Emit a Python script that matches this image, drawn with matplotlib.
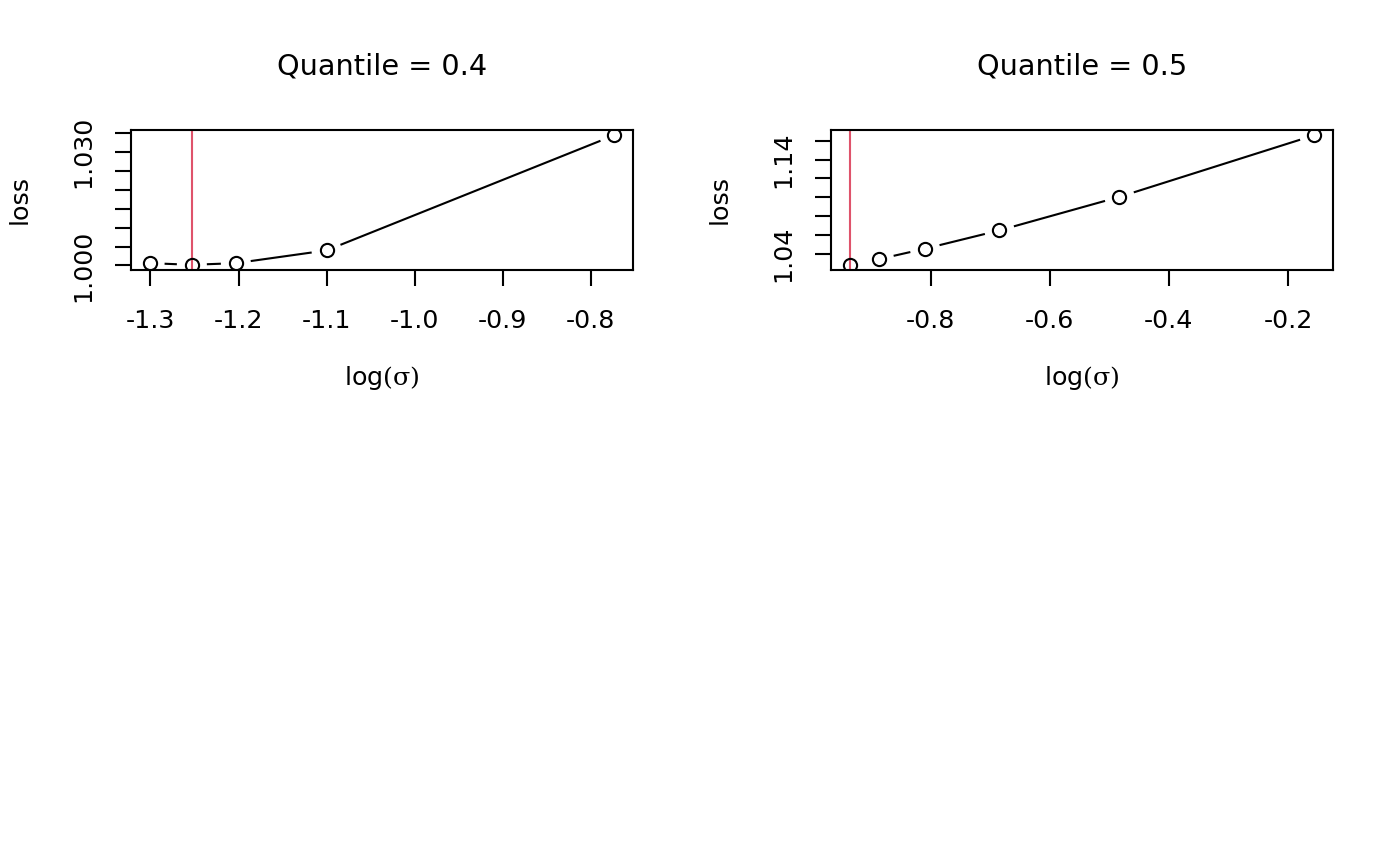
import numpy as np
import matplotlib
matplotlib.use('Agg')
import matplotlib.pyplot as plt

plt.rcParams['mathtext.fontset'] = 'custom'
plt.rcParams['mathtext.rm'] = 'DejaVu Serif'

# Quantile 0.4 panel
log_sigma_q4 = [-1.301, -1.253, -1.203, -1.100, -0.773]
loss_q4 = [1.00062, 1.00018, 1.00062, 1.00397, 1.0343]
best_q4 = -1.253
yticks_q4 = [1.000, 1.005, 1.010, 1.015, 1.020, 1.025, 1.030, 1.035]
ylabels_q4 = ['1.000', '', '', '', '', '', '1.030', '']
xticks_q4 = [-1.3, -1.2, -1.1, -1.0, -0.9, -0.8]

# Quantile 0.5 panel
log_sigma_q5 = [-0.9363, -0.8869, -0.8097, -0.6846, -0.4830, -0.1556]
loss_q5 = [1.0287, 1.0347, 1.0457, 1.0651, 1.1005, 1.1657]
best_q5 = -0.9363
yticks_q5 = [1.04, 1.06, 1.08, 1.10, 1.12, 1.14, 1.16]
ylabels_q5 = ['1.04', '', '', '', '', '1.14', '']
xticks_q5 = [-0.8, -0.6, -0.4, -0.2]

titles = ['Quantile = 0.4', 'Quantile = 0.5']

DPI = 144
W, H = 1400, 866
RED = '#DF536B'
LW = 1.05


def r_lim(v):
    lo, hi = min(v), max(v)
    d = (hi - lo) * 0.04
    return lo - d, hi + d


def type_b(ax, x, y, gap_px=15):
    # R style type="b": points joined by segments that stop short of the points
    pts = ax.transData.transform(np.column_stack([x, y]))
    inv = ax.transData.inverted()
    for p0, p1 in zip(pts[:-1], pts[1:]):
        d = p1 - p0
        L = np.hypot(*d)
        if L <= 2 * gap_px:
            continue
        u = d / L
        a = inv.transform(p0 + u * gap_px)
        b = inv.transform(p1 - u * gap_px)
        ax.plot([a[0], b[0]], [a[1], b[1]], color='black', lw=LW,
                solid_capstyle='butt')
    ax.plot(x, y, 'o', ms=6.6, mfc='none', mec='black', mew=LW)


def panel(ax, x, y, best, xt, yt, yl, title):
    ax.set_xlim(*r_lim(x))
    ax.set_ylim(*r_lim(y))
    ax.axvline(best, color=RED, lw=LW)
    type_b(ax, x, y)
    ax.set_xticks(xt)
    ax.set_xticklabels([f'{v:.1f}' for v in xt])
    ax.set_yticks(yt)
    ax.set_yticklabels(yl, rotation=90, va='center')
    ax.tick_params(direction='out', length=7.8, width=LW, labelsize=12.7,
                   color='black')
    ax.tick_params(axis='x', pad=11.5)
    ax.tick_params(axis='y', pad=10)
    for s in ax.spines.values():
        s.set_linewidth(LW)
    ax.text(0.5, 1 + 64 / 140, title, transform=ax.transAxes, ha='center',
            va='center', fontsize=14.4)
    ax.text(0.5, -108 / 140, r'log$\mathrm{(\sigma)}$', transform=ax.transAxes,
            ha='center', va='center', fontsize=12.7)
    ax.text(-111 / 502, 0.5, 'loss', transform=ax.transAxes, ha='center',
            va='center', rotation=90, fontsize=12.7)


fig = plt.figure(figsize=(W / DPI, H / DPI), dpi=DPI)
ax1 = fig.add_axes([131 / W, 1 - 270 / H, 502 / W, 140 / H])
ax2 = fig.add_axes([831 / W, 1 - 270 / H, 502 / W, 140 / H])

panel(ax1, log_sigma_q4, loss_q4, best_q4, xticks_q4, yticks_q4, ylabels_q4, titles[0])
panel(ax2, log_sigma_q5, loss_q5, best_q5, xticks_q5, yticks_q5, ylabels_q5, titles[1])

fig.savefig('out.png', dpi=DPI)
